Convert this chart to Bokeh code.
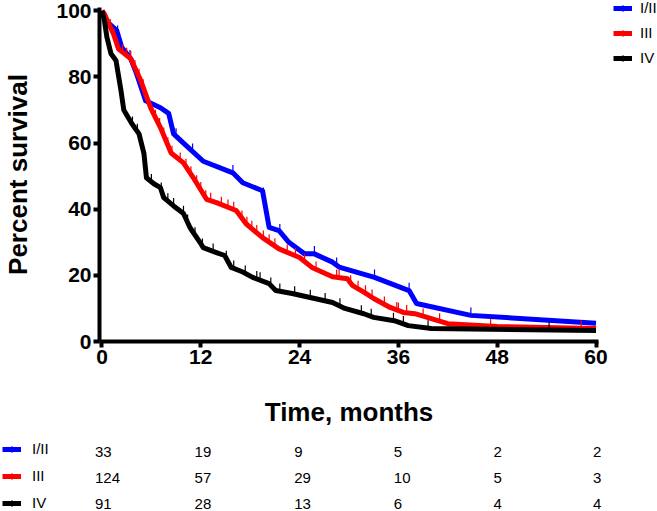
import numpy as np
from bokeh.plotting import figure
from bokeh.models import Range1d, Legend, LegendItem, FixedTicker
from bokeh.layouts import column, row
from bokeh.embed import file_html
from bokeh.resources import INLINE
from bokeh.core.properties import value

# ---------------- data ----------------
groups = ["I/II", "III", "IV"]
colors = ["#0000FF", "#FF0000", "#000000"]

t_12 = [0, 0.5, 1.8, 2.4, 3.5, 4.2, 5.3, 7.1, 8.1, 8.7, 9.9, 12.3, 15.9, 17.1, 19.5,
        20.3, 21.5, 22.7, 24.6, 25.8, 28.0, 28.8, 33.1, 37.3, 38.2, 44.8, 60]
s_12 = [100, 97, 94, 89, 85.5, 81, 72.8, 70.7, 69, 62.8, 60, 54.5, 51, 48, 45.6,
        34.5, 33.5, 30, 26.5, 26.5, 24, 22.5, 19.4, 15.4, 11.5, 7.9, 5.5]

t_3 = [0, 0.3, 1.4, 2.0, 3.5, 4.7, 5.9, 7.1, 8.4, 9.9, 11.1, 12.7, 13.9, 16.3, 17.5,
       19.5, 21.5, 24.0, 25.5, 28.0, 29.8, 30.4, 31.9, 33.0, 35.0, 36.6, 38.0, 40.0,
       42.0, 48.0, 60]
s_3 = [100, 99, 93, 88.5, 85.5, 79, 70.7, 64.7, 57, 54, 49.5, 43, 42, 39.6, 35.6,
       31.4, 28, 25.4, 22.4, 19.6, 19, 17, 14.8, 13, 10.3, 8.8, 8.4, 6.9,
       5.4, 4.5, 3.9]

t_4 = [0, 0.3, 0.6, 1.1, 1.7, 2.3, 2.65, 3.6, 4.5, 5.1, 5.4, 6.3, 7.1, 7.5, 8.7, 9.9,
       10.7, 11.9, 12.3, 13.9, 14.9, 15.7, 17.1, 18.3, 20.3, 21.1, 23.1, 28.0, 29.5,
       31.8, 33.0, 35.5, 37.2, 40.0, 60]
s_4 = [100, 97, 92, 87, 85, 76, 70, 66, 62.8, 56.8, 49.5, 47.7, 46.5, 43.5, 41, 38.7,
       34.4, 30, 28.4, 26.9, 26, 22.4, 21, 19.4, 17.5, 15.4, 14.5, 11.8, 10,
       8.4, 7.3, 6.3, 4.8, 3.9, 3.3]

censor_12 = [1.9, 3.4, 9.0, 11.0, 15.9, 19.6, 21.6, 25.8, 28.5, 33.1, 37.3, 44.8]
censor_3 = [1.0, 1.5, 2.5, 3.0, 3.5, 4.0, 4.5, 5.0, 6.5, 7.0, 7.5, 8.0, 8.5, 9.5,
            10.2, 10.8, 11.5, 12.0, 12.6, 13.2, 14.5, 15.3, 16.0, 17.0, 17.6, 18.2,
            18.8, 19.6, 20.3, 21.0, 22.5, 23.5, 24.6, 26.0, 28.5, 28.8, 30.2, 31.1,
            32.0, 32.8, 34.3, 35.8, 36.0, 37.0, 39.0, 41.0, 47.2, 58.2]
censor_4 = [2.0, 3.7, 4.3, 6.0, 7.2, 8.0, 8.7, 9.9, 10.4, 11.3, 12.2, 13.5, 15.1,
            16.0, 17.4, 18.8, 19.2, 20.5, 21.6, 23.4, 25.3, 27.1, 28.9, 31.5, 32.7,
            35.4, 36.6, 39.6, 54.3]

x_ticks = [0, 12, 24, 36, 48, 60]
y_ticks = [0, 20, 40, 60, 80, 100]
at_risk_12 = [33, 19, 9, 5, 2, 2]
at_risk_3 = [124, 57, 29, 10, 5, 3]
at_risk_4 = [91, 28, 13, 6, 4, 4]

curves = [(t_12, s_12, censor_12), (t_3, s_3, censor_3), (t_4, s_4, censor_4)]
at_risk = [at_risk_12, at_risk_3, at_risk_4]

FONT = "Liberation Sans"

# ---------------- layout constants ----------------
W = 657
W1 = 610               # main plot width; the rest holds the legend
H1, H2 = 432, 79
BL, BT = 95, 7
FRAME_R = 598
BR = W1 - FRAME_R
X0, X1 = -0.3, 60.3

# ---------------- main plot ----------------
p = figure(width=W1, height=H1, output_backend="svg", toolbar_location=None,
           x_range=Range1d(X0, X1), y_range=Range1d(0, 101),
           min_border_left=BL, min_border_right=BR, min_border_top=BT,
           min_border_bottom=H1 - 341)
p.frame_align = False
p.outline_line_color = None
p.grid.visible = False

for ax, ticks in ((p.xaxis, x_ticks), (p.yaxis, y_ticks)):
    ax.ticker = FixedTicker(ticks=ticks)
    ax.axis_line_width = 4
    ax.axis_line_color = "black"
    ax.major_tick_line_width = 4
    ax.major_tick_line_color = "black"
    ax.major_tick_out = 6
    ax.major_tick_in = 0
    ax.minor_tick_line_color = None
    ax.major_label_text_font = FONT
    ax.major_label_text_font_style = "bold"
    ax.major_label_text_font_size = "21px"
    ax.major_label_text_color = "black"
    ax.axis_label_text_font = FONT
    ax.axis_label_text_font_style = "bold"
    ax.axis_label_text_font_size = "26px"
    ax.axis_label_text_color = "black"

p.xaxis.axis_label = "Time, months"
p.xaxis.major_label_standoff = 2
p.xaxis.axis_label_standoff = 30
p.yaxis.axis_label = "Percent survival"
p.yaxis.major_label_standoff = 2
p.yaxis.axis_label_standoff = 20

for (t, s, c), col in zip(curves, colors):
    p.line(t, s, line_color=col, line_width=5, line_join="round")
    p.scatter(c, np.interp(c, t, s) + 1.0, marker="dash", angle=np.pi / 2, size=9,
              line_color=col, line_width=1.2)


def key_panel(fig):
    """Legend keys: the same curves and marks, lying outside this panel's view."""
    its = []
    for (t, s, c), col, g in zip(curves, colors, groups):
        ln = fig.line(t, s, line_color=col, line_width=5)
        mk = fig.scatter(c, np.interp(c, t, s), marker="cross", size=9,
                         line_color=col, line_width=1.2)
        its.append(LegendItem(label=g, renderers=[ln, mk]))
    return its


# ---------------- legend panel (top right) ----------------
lf = figure(width=W - W1, height=H1, output_backend="svg", toolbar_location=None,
            x_range=Range1d(0, 1), y_range=Range1d(-20, -10),
            min_border=0, x_axis_location=None, y_axis_location=None)
lf.frame_align = False
lf.outline_line_color = None
lf.grid.visible = False
leg_h = 3 * 16 + 2 * 8
leg = Legend(items=key_panel(lf), location=(3, H1 - leg_h - 2), padding=0, margin=0,
             border_line_color=None, background_fill_alpha=0,
             label_text_font=FONT, label_text_font_size="15px",
             label_text_color="black",
             glyph_width=19, glyph_height=16, label_height=16,
             spacing=8, label_standoff=8)
lf.add_layout(leg)

# ---------------- number-at-risk table ----------------
ppu = (FRAME_R - BL) / (X1 - X0)
tx0 = X0 - BL / ppu
tx1 = X1 + (W - FRAME_R) / ppu
row_px = 26
top_px = 19
y_top = top_px / row_px

t2 = figure(width=W, height=H2, output_backend="svg", toolbar_location=None,
            x_range=Range1d(tx0, tx1), y_range=Range1d(y_top - H2 / row_px, y_top),
            min_border=0, x_axis_location=None, y_axis_location=None)
t2.frame_align = False
t2.outline_line_color = None
t2.grid.visible = False

for r, vals in enumerate(at_risk):
    t2.text(x=x_ticks, y=[-r] * len(x_ticks), text=[str(v) for v in vals],
            text_align="left", text_baseline="middle", x_offset=-3,
            text_font=value(FONT), text_font_size="15px", text_color="black")

leg2 = Legend(items=key_panel(t2), location=(2, 0), padding=0, margin=0,
              border_line_color=None, background_fill_alpha=0,
              label_text_font=FONT, label_text_font_size="15px",
              label_text_color="black",
              glyph_width=19, glyph_height=16, label_height=16,
              spacing=10, label_standoff=11)
t2.add_layout(leg2)

layout = column(row(p, lf, spacing=0), t2, spacing=0)
open("out.html", "w").write(file_html(layout, INLINE))
